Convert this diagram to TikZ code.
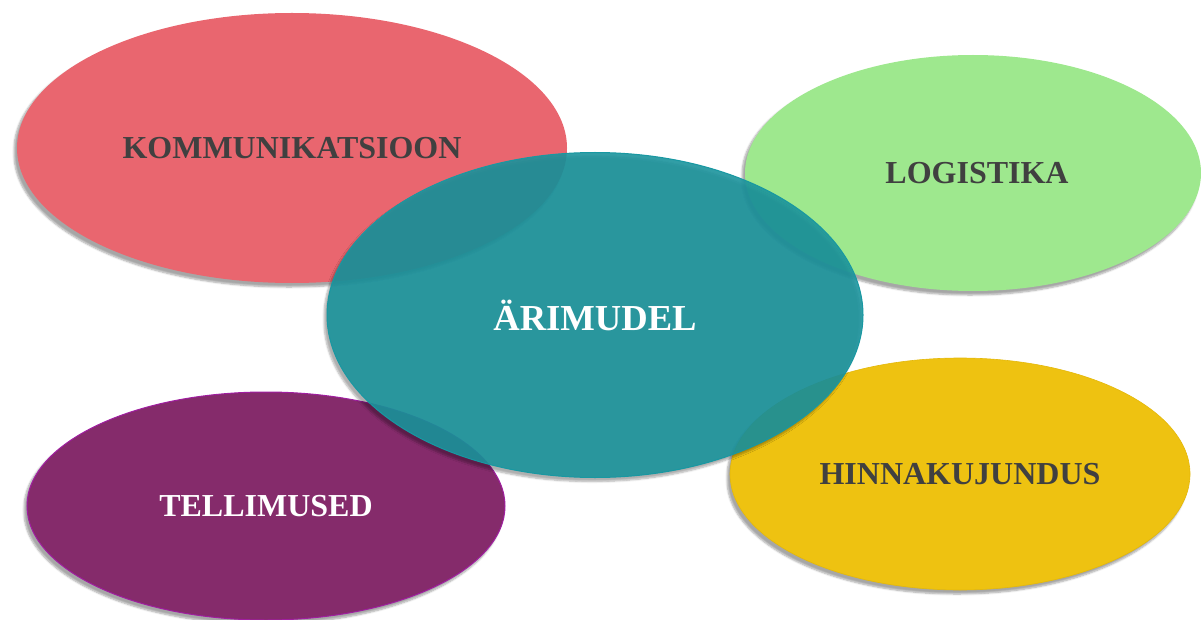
\documentclass[tikz,border=0pt]{standalone}
\usepackage{fontspec}
\setmainfont{Liberation Serif}
\usetikzlibrary{shapes.geometric,shadows.blur}
\definecolor{cred}{RGB}{233,102,111}
\definecolor{cgreen}{RGB}{158,232,142}
\definecolor{cteal}{RGB}{27,147,156}
\definecolor{ctealline}{RGB}{24,152,162}
\definecolor{cpurple}{RGB}{133,43,107}
\definecolor{cpurpleline}{RGB}{160,30,160}
\definecolor{cyellow}{RGB}{238,194,17}
\definecolor{cyellowline}{RGB}{228,184,10}
\definecolor{ctext}{RGB}{64,64,64}
\begin{document}
\begin{tikzpicture}[x=1pt,y=-1pt,
  blob/.style={ellipse, inner sep=0pt, font=\bfseries\fontsize{32}{36}\selectfont,
    blur shadow={shadow xshift=-3pt, shadow yshift=-4pt, shadow opacity=35, shadow blur steps=6, shadow blur extra rounding=2pt}},
  darktext/.style={text=ctext},
  lighttext/.style={text=white}]
\useasboundingbox (0,0) rectangle (1201,620);
\node[blob, darktext, fill=cred, minimum width=550pt, minimum height=270pt] (komm) at (292,148) {KOMMUNIKATSIOON};
\node[blob, darktext, fill=cgreen, minimum width=456pt, minimum height=236pt] (log) at (973,173) {\hspace*{8pt}LOGISTIKA};
\node[blob, lighttext, fill=cpurple, draw=cpurpleline, line width=1pt, minimum width=478pt, minimum height=228pt] (tell) at (266,506) {TELLIMUSED};
\node[blob, darktext, fill=cyellow, draw=cyellowline, line width=0.6pt, minimum width=460pt, minimum height=232pt] (hinna) at (960,474) {HINNAKUJUNDUS};
\node[blob, lighttext, fill=cteal, fill opacity=0.9, text opacity=1, draw=ctealline, line width=1pt, minimum width=536pt, minimum height=325pt, font=\bfseries\fontsize{36.6}{40}\selectfont] (ari) at (595,315) {ÄRIMUDEL};
\end{tikzpicture}
\end{document}
